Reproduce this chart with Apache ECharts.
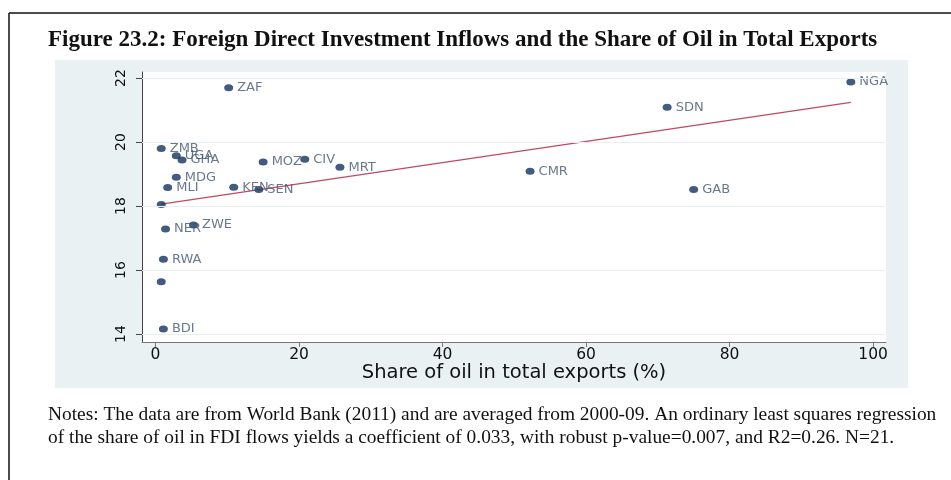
<!DOCTYPE HTML>
<html>
<head>
<meta charset="utf-8">
<title>FDI inflows and oil share</title>
<style>
    html, body { margin: 0; padding: 0; background: #fff; }
    #fdi-chart { width: 951px; height: 480px; }
</style>
</head>
<body>
<div id="fdi-chart"></div>
<script type="text/javascript" src="https://cdn.jsdelivr.net/npm/echarts@6/dist/echarts.min.js"></script>
<script type="text/javascript">
    // country codes ('' = point drawn without a label)
    var codes = ['NGA','SDN','GAB','CMR','ZAF','ZMB','UGA','GHA','MOZ','CIV','MRT','MDG','MLI','KEN','SEN','','NER','ZWE','RWA','','BDI']
    // share of oil in total exports (%)
    var oilShare = [96.9, 71.3, 75.0, 52.2, 10.2, 0.8, 2.9, 3.7, 15.0, 20.8, 25.7, 2.9, 1.7, 10.9, 14.4, 0.8, 1.4, 5.3, 1.1, 0.8, 1.1]
    // log FDI inflows
    var fdiInflows = [21.88, 21.09, 18.52, 19.09, 21.70, 19.80, 19.57, 19.44, 19.38, 19.46, 19.21, 18.90, 18.58, 18.59, 18.52, 18.05, 17.28, 17.41, 16.34, 15.63, 14.16]
    // fitted line end points
    var fitX = [0.8, 96.9]
    var fitY = [18.06, 21.24]
    var xTicks = [0, 20, 40, 60, 80, 100]
    var yTicks = [14, 16, 18, 20, 22]

    var points = []
    for (var i = 0; i < codes.length; i++) {
        points.push({ value: [oilShare[i], fdiInflows[i]], name: codes[i] })
    }
    var fitLine = fitX.map(function (x, i) { return [x, fitY[i]] })

    var chart = echarts.init(document.getElementById('fdi-chart'))
    var option = {
        animation: false,
        backgroundColor: '#ffffff',
        grid: { left: 142, right: 65, top: 72, bottom: 138, show: true, backgroundColor: '#ffffff', borderWidth: 0 },
        graphic: [
            { type: 'rect', z: -10, shape: { x: 55, y: 60, width: 853, height: 328 }, style: { fill: '#eaf1f3' } },
            { type: 'line', shape: { x1: 9, y1: 13, x2: 951, y2: 13 }, style: { stroke: '#111', lineWidth: 1.5 } },
            { type: 'line', shape: { x1: 9, y1: 13, x2: 9, y2: 480 }, style: { stroke: '#111', lineWidth: 1.5 } },
            {
                type: 'text', left: 48, top: 29,
                style: {
                    text: 'Figure 23.2: Foreign Direct Investment Inflows and the Share of Oil in Total Exports',
                    font: 'bold 23px "Liberation Serif"', fill: '#111'
                }
            },
            {
                type: 'text', left: 48, top: 403,
                style: {
                    text: 'Notes: The data are from World Bank (2011) and are averaged from 2000-09. An ordinary least squares regression\nof the share of oil in FDI flows yields a coefficient of 0.033, with robust p-value=0.007, and R2=0.26. N=21.',
                    font: '19.4px "Liberation Serif"', lineHeight: 23, fill: '#111'
                }
            }
        ],
        xAxis: {
            type: 'value', min: -1.88, max: 101.8,
            name: 'Share of oil in total exports (%)', nameLocation: 'middle', nameGap: 21, nameMoveOverlap: false,
            nameTextStyle: { fontFamily: 'DejaVu Sans', fontSize: 19.5, color: '#111' },
            axisLine: { show: true, onZero: false, lineStyle: { color: '#777', width: 1 } },
            axisTick: { show: true, length: 5, customValues: xTicks, lineStyle: { color: '#777' } },
            axisLabel: { customValues: xTicks, margin: 5, fontFamily: 'DejaVu Sans', fontSize: 15.5, color: '#111' },
            splitLine: { show: false }
        },
        yAxis: {
            type: 'value', min: 13.75, max: 22.19,
            axisLine: { show: true, onZero: false, lineStyle: { color: '#444', width: 1 } },
            axisTick: { show: true, length: 6, customValues: yTicks, lineStyle: { color: '#444' } },
            axisLabel: { customValues: yTicks, rotate: 90, margin: 14, fontFamily: 'DejaVu Sans', fontSize: 14, color: '#111' },
            splitLine: { show: false }
        },
        series: [{
            type: 'line',
            data: yTicks.map(function (v) { return [-1.88, v] }),
            symbol: 'none', lineStyle: { width: 0 }, silent: true,
            markLine: {
                silent: true, symbol: 'none', label: { show: false },
                lineStyle: { color: '#e8eff1', type: 'solid', width: 1 },
                data: yTicks.map(function (v) { return { yAxis: v } })
            }
        }, {
            name: 'fit',
            type: 'line',
            data: fitLine,
            symbol: 'none',
            lineStyle: { color: '#bf4a62', width: 1.3 },
            z: 3
        }, {
            name: 'countries',
            type: 'scatter',
            data: points,
            symbolSize: [9, 7],
            itemStyle: { color: '#15325e' },
            label: {
                show: true, position: 'right', distance: 4,
                formatter: function (p) { return p.name },
                fontFamily: 'DejaVu Sans', fontSize: 13, color: '#45566f'
            },
            z: 4
        }]
    }
    chart.setOption(option)
</script>
</body>
</html>
